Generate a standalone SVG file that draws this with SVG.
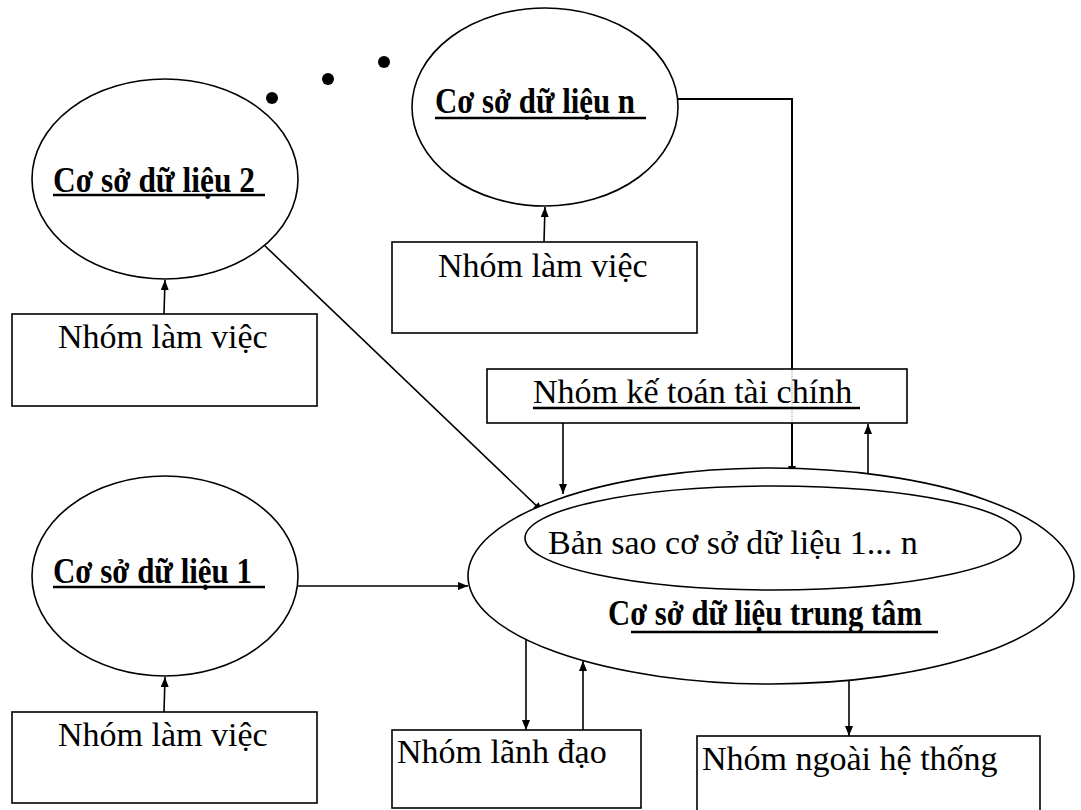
<svg xmlns="http://www.w3.org/2000/svg" width="1081" height="810" viewBox="0 0 1081 810">
<defs>
<marker id="arr" markerUnits="userSpaceOnUse" markerWidth="10" markerHeight="10" refX="10" refY="4" orient="auto">
<path d="M0,0 L10,4 L0,8 z" fill="#000"/>
</marker>
<style>
.shape{fill:#fff;stroke:#000;stroke-width:1.6}
.t{font-family:"Liberation Serif","Times New Roman",serif;font-size:34px;fill:#000}
.b{font-family:"Liberation Serif","Times New Roman",serif;font-size:36px;font-weight:bold;fill:#000}
.ul{stroke:#000;stroke-width:2.5}
.c{fill:none;stroke:#000;stroke-width:1.6}
</style>
</defs>
<rect width="1081" height="810" fill="#fff"/>

<g id="connectors">
<line class="c" x1="164" y1="314" x2="165" y2="280" marker-end="url(#arr)"/>
<line class="c" x1="544" y1="242" x2="545" y2="207" marker-end="url(#arr)"/>
<line class="c" x1="164" y1="712" x2="165" y2="677" marker-end="url(#arr)"/>
<polyline class="c" style="stroke-width:2" points="678,99 792,99 792,476" marker-end="url(#arr)"/>
<line class="c" x1="263" y1="244" x2="543" y2="512" marker-end="url(#arr)"/>
<line class="c" x1="298" y1="586" x2="468" y2="586" marker-end="url(#arr)"/>
<line class="c" x1="563" y1="423" x2="563" y2="494" marker-end="url(#arr)"/>
<line class="c" x1="868" y1="478" x2="868" y2="424" marker-end="url(#arr)"/>
<line class="c" x1="526" y1="640" x2="526" y2="730" marker-end="url(#arr)"/>
<line class="c" x1="583" y1="730" x2="583" y2="661" marker-end="url(#arr)"/>
<line class="c" x1="849" y1="681" x2="849" y2="736" marker-end="url(#arr)"/>
</g>

<g id="dots">
<circle cx="272" cy="98" r="6" fill="#000"/>
<circle cx="328" cy="79" r="6" fill="#000"/>
<circle cx="384" cy="62" r="6" fill="#000"/>
</g>

<g id="db2">
<ellipse class="shape" cx="165" cy="179" rx="133" ry="100"/>
<text class="b" x="53" y="192" textLength="202" lengthAdjust="spacingAndGlyphs">Cơ sở dữ liệu 2</text>
<line class="ul" x1="53" y1="195" x2="265" y2="195"/>
</g>

<g id="work2">
<rect class="shape" x="12" y="314" width="305" height="92"/>
<text class="t" x="58" y="348">Nhóm làm việc</text>
</g>

<g id="dbn">
<ellipse class="shape" cx="545" cy="107" rx="133" ry="99"/>
<text class="b" x="435" y="113" textLength="200" lengthAdjust="spacingAndGlyphs">Cơ sở dữ liệu n</text>
<line class="ul" x1="435" y1="118" x2="646" y2="118"/>
</g>

<g id="workn">
<rect class="shape" x="392" y="242" width="305" height="91"/>
<text class="t" x="438" y="277">Nhóm làm việc</text>
</g>

<g id="ketoan">
<rect class="shape" x="487" y="369" width="420" height="54"/>
<line x1="792" y1="370" x2="792" y2="422" stroke="#999" stroke-width="1" stroke-dasharray="1,1"/>
<text class="t" x="533" y="403">Nhóm kế toán tài chính</text>
<line class="ul" x1="533" y1="408" x2="860" y2="408"/>
</g>

<g id="db1">
<ellipse class="shape" cx="165" cy="576" rx="133" ry="100"/>
<text class="b" x="53" y="583" textLength="199" lengthAdjust="spacingAndGlyphs">Cơ sở dữ liệu 1</text>
<line class="ul" x1="53" y1="587" x2="265" y2="587"/>
</g>

<g id="work1">
<rect class="shape" x="12" y="712" width="305" height="91"/>
<text class="t" x="58" y="746">Nhóm làm việc</text>
</g>

<g id="central">
<ellipse class="shape" cx="771" cy="576" rx="303" ry="108"/>
<ellipse class="shape" cx="773" cy="538" rx="248" ry="52"/>
<text class="t" x="548" y="554">Bản sao cơ sở dữ liệu 1... n</text>
<text class="b" x="608" y="625" textLength="314" lengthAdjust="spacingAndGlyphs">Cơ sở dữ liệu trung tâm</text>
<line class="ul" x1="631" y1="632" x2="938" y2="632"/>
</g>

<g id="lanhdao">
<rect class="shape" x="392" y="730" width="249" height="78"/>
<text class="t" x="397" y="763">Nhóm lãnh đạo</text>
</g>

<g id="ngoai">
<rect class="shape" x="697" y="736" width="343" height="80"/>
<text class="t" x="702" y="770">Nhóm ngoài hệ thống</text>
</g>
</svg>
